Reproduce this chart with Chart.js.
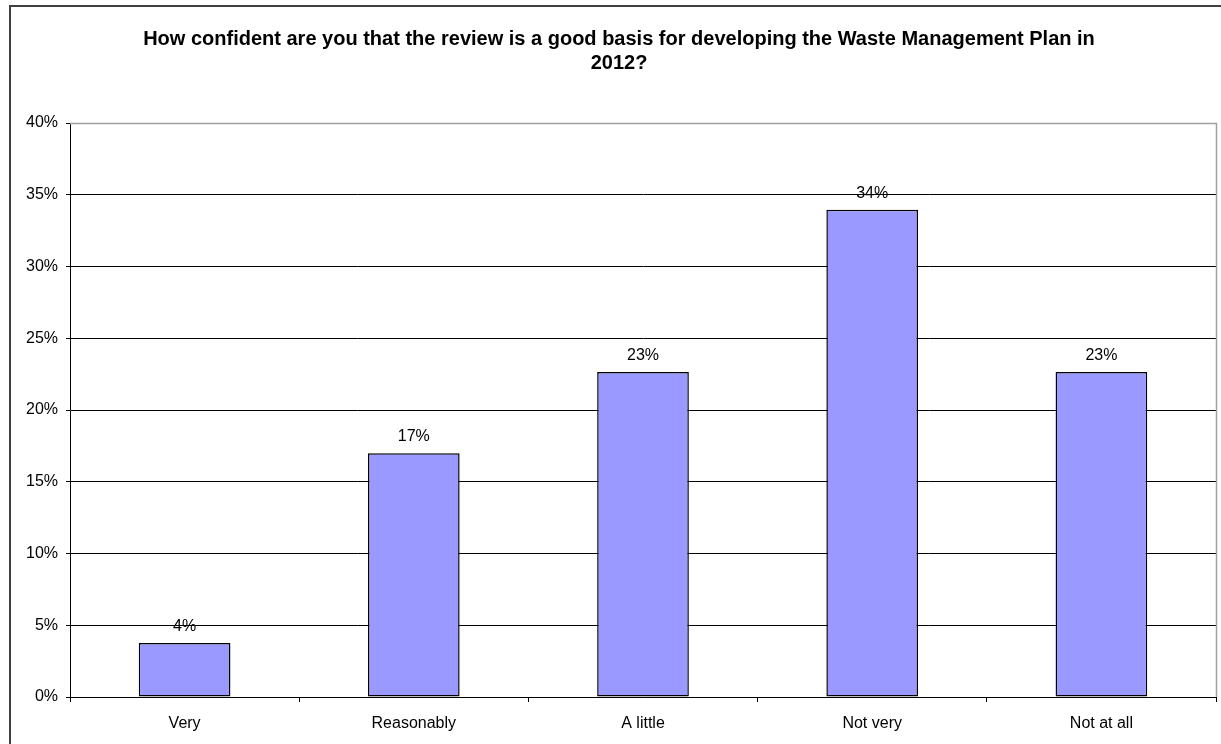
<!DOCTYPE html>
<html>
<head>
<meta charset="utf-8">
<script src="https://cdn.jsdelivr.net/npm/chart.js@4/dist/chart.umd.min.js"></script>
<style>
  html, body { margin: 0; padding: 0; background: #fff; }
  #wrap { width: 1221px; height: 744px; position: relative; }
</style>
</head>
<body>
<div id="wrap"><canvas id="chart" width="1221" height="744"></canvas></div>
<script>
const categories = ['Very', 'Reasonably', 'A little', 'Not very', 'Not at all'];
const shares = [3.77, 16.98, 22.64, 33.96, 22.64];
const valueLabels = ['4%', '17%', '23%', '34%', '23%'];
const titleLines = [
  'How confident are you that the review is a good basis for developing the Waste Management Plan in',
  '2012?'
];

const FONT = '"Liberation Sans", Arial, sans-serif';

// frame, title and the grey plot border
const decor = {
  id: 'decor',
  beforeDraw(chart) {
    const ctx = chart.ctx;
    ctx.save();
    ctx.fillStyle = '#fff';
    ctx.fillRect(0, 0, chart.width, chart.height);
    ctx.strokeStyle = '#404040';
    ctx.lineWidth = 2;
    ctx.strokeRect(10, 6, 1240, 760);
    ctx.fillStyle = '#000';
    ctx.font = 'bold 20px ' + FONT;
    ctx.textAlign = 'center';
    ctx.textBaseline = 'alphabetic';
    ctx.fillText(titleLines[0], 619, 45);
    ctx.fillText(titleLines[1], 619, 69);
    ctx.restore();
  },
  afterDatasetsDraw(chart) {
    const ctx = chart.ctx;
    const a = chart.chartArea;
    ctx.save();
    ctx.strokeStyle = '#a0a0a0';
    ctx.lineWidth = 1.5;
    ctx.beginPath();
    ctx.moveTo(a.left, a.top + 0.5);
    ctx.lineTo(a.right + 0.5, a.top + 0.5);
    ctx.lineTo(a.right + 0.5, a.bottom);
    ctx.stroke();
    // value labels
    ctx.fillStyle = '#000';
    ctx.font = '16px ' + FONT;
    ctx.textAlign = 'center';
    ctx.textBaseline = 'alphabetic';
    chart.getDatasetMeta(0).data.forEach((bar, i) => {
      ctx.fillText(valueLabels[i], bar.x, bar.y - 12);
    });
    ctx.restore();
  }
};

new Chart(document.getElementById('chart'), {
  type: 'bar',
  data: {
    labels: categories,
    datasets: [{
      data: shares,
      backgroundColor: '#9999ff',
      borderColor: '#000',
      borderWidth: 1.5,
      borderSkipped: false,
      categoryPercentage: 1,
      barPercentage: 0.4
    }]
  },
  options: {
    responsive: false,
    animation: false,
    layout: { padding: { left: 0, right: 5, top: 123, bottom: 0 } },
    plugins: {
      legend: { display: false },
      title: { display: false },
      tooltip: { enabled: false }
    },
    scales: {
      x: {
        grid: { drawOnChartArea: false, drawTicks: true, tickLength: 5, color: '#000' },
        border: { color: '#000', width: 1 },
        ticks: { color: '#000', font: { family: FONT, size: 16 }, padding: 12, maxRotation: 0 },
        afterFit(scale) { scale.height = 47; }
      },
      y: {
        min: 0,
        max: 40,
        ticks: {
          stepSize: 5,
          color: '#000',
          font: { family: FONT, size: 16 },
          padding: 8,
          callback: (v) => v + '%'
        },
        grid: { color: '#000', tickLength: 4 },
        border: { color: '#000', width: 1 },
        afterFit(scale) { scale.width = 70; }
      }
    }
  },
  plugins: [decor]
});
</script>
</body>
</html>
